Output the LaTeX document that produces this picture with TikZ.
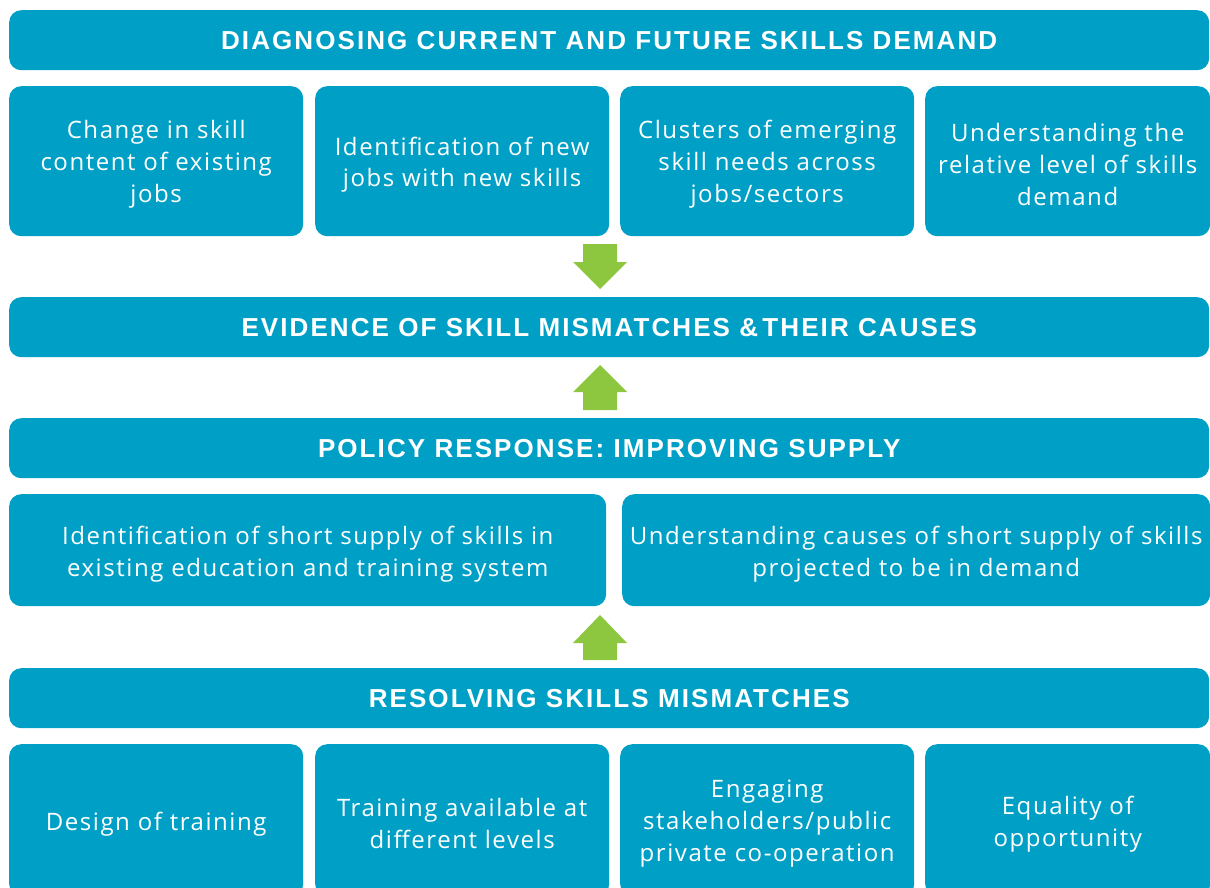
\documentclass[tikz,border=0pt]{standalone}
\usepackage{fontspec}
\setmainfont{Open Sans}[LetterSpace=6.5]
\newfontfamily\headfont{Liberation Sans}[LetterSpace=8]
\usetikzlibrary{calc}
\definecolor{boxblue}{HTML}{00A0C6}
\definecolor{arrgreen}{HTML}{8DC63F}
\tikzset{
  x=1pt, y=-1pt,
  base/.style={fill=boxblue, rounded corners=12pt, inner sep=0pt, anchor=north west},
  header/.style={base, text=white, align=center, font=\headfont\fontsize{26}{28}\selectfont\bfseries, minimum height=60pt},
  cell/.style={base, minimum height=150pt},
  celltext/.style={text=white, align=center, inner sep=0pt, font=\fontsize{24}{32}\selectfont},
  greenarrow/.style={fill=arrgreen}
}
\begin{document}
\begin{tikzpicture}
\useasboundingbox (0,0) rectangle (1210,888);
\clip (0,0) rectangle (1210,888);
\node[header, minimum width=1200pt] (h1) at (9,10) {DIAGNOSING CURRENT AND FUTURE SKILLS DEMAND};
\node[cell, minimum width=294pt] (a1) at (9,86) {};
\node[cell, minimum width=294pt] (a2) at (315,86) {};
\node[cell, minimum width=294pt] (a3) at (620,86) {};
\node[cell, minimum width=285pt] (a4) at (925,86) {};
\node[celltext] (a1t) at ([yshift=-3.5pt]a1.center) {Change in skill\\content of existing\\jobs};
\node[celltext] (a2t) at ([yshift=-3.5pt]a2.center) {Identification of new\\jobs with new skills};
\node[celltext] (a3t) at ([yshift=-3.5pt]a3.center) {Clusters of emerging\\skill needs across\\jobs/sectors};
\node[celltext] (a4t) at ([yshift=-3.5pt]a4.center) {Understanding the\\relative level of skills\\demand};
\node[header, minimum width=1200pt] (h2) at (9,297) {EVIDENCE OF SKILL MISMATCHES \&\,THEIR CAUSES};
\node[header, minimum width=1200pt] (h3) at (9,418) {POLICY RESPONSE: IMPROVING SUPPLY};
\node[cell, minimum width=597pt, minimum height=112pt] (b1) at (9,494) {};
\node[cell, minimum width=588pt, minimum height=112pt] (b2) at (622,494) {};
\node[celltext] (b1t) at ([yshift=-4pt]b1.center) {Identification of short supply of skills in\\existing education and training system};
\node[celltext] (b2t) at ([yshift=-4pt]b2.center) {Understanding causes of short supply of skills\\projected to be in demand};
\node[header, minimum width=1200pt] (h4) at (9,668) {RESOLVING SKILLS MISMATCHES};
\node[cell, minimum width=294pt, minimum height=152pt] (c1) at (9,744) {};
\node[cell, minimum width=294pt, minimum height=152pt] (c2) at (315,744) {};
\node[cell, minimum width=294pt, minimum height=152pt] (c3) at (620,744) {};
\node[cell, minimum width=285pt, minimum height=152pt] (c4) at (925,744) {};
\node[celltext] (c1t) at ([yshift=-3.5pt]c1.center) {Design of training};
\node[celltext] (c2t) at ([yshift=-3.5pt]c2.center) {Training available at\\different levels};
\node[celltext] (c3t) at ([yshift=-3.5pt]c3.center) {Engaging\\stakeholders/public\\private co-operation};
\node[celltext] (c4t) at ([yshift=-3.5pt]c4.center) {Equality of\\opportunity};
\fill[greenarrow] (583,244) -- (617,244) -- (617,262) -- (627,262) -- (600,289) -- (573,262) -- (583,262) -- cycle;
\fill[greenarrow] (583,410) -- (617,410) -- (617,392) -- (627,392) -- (600,365) -- (573,392) -- (583,392) -- cycle;
\fill[greenarrow] (583,660) -- (617,660) -- (617,643) -- (627,643) -- (600,615) -- (573,643) -- (583,643) -- cycle;
\end{tikzpicture}
\end{document}
